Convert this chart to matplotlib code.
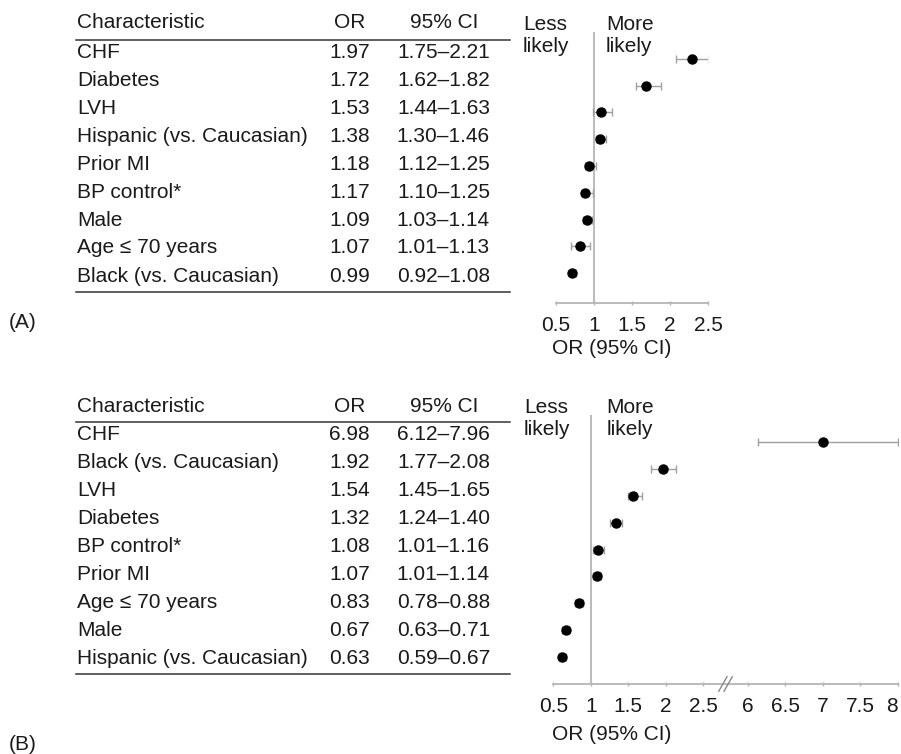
import matplotlib
matplotlib.use("Agg")
import matplotlib.pyplot as plt
import matplotlib.transforms as mtransforms
import numpy as np

plt.rcParams['font.family'] = ['Liberation Sans', 'DejaVu Sans']

# ---- data -------------------------------------------------------------
chars_a = ['CHF', 'Diabetes', 'LVH', 'Hispanic (vs. Caucasian)', 'Prior MI',
           'BP control*', 'Male', 'Age \u2264 70 years', 'Black (vs. Caucasian)']
or_a = ['1.97', '1.72', '1.53', '1.38', '1.18', '1.17', '1.09', '1.07', '0.99']
ci_a = ['1.75\u20132.21', '1.62\u20131.82', '1.44\u20131.63', '1.30\u20131.46',
        '1.12\u20131.25', '1.10\u20131.25', '1.03\u20131.14', '1.01\u20131.13',
        '0.92\u20131.08']

chars_b = ['CHF', 'Black (vs. Caucasian)', 'LVH', 'Diabetes', 'BP control*',
           'Prior MI', 'Age \u2264 70 years', 'Male', 'Hispanic (vs. Caucasian)']
or_b = ['6.98', '1.92', '1.54', '1.32', '1.08', '1.07', '0.83', '0.67', '0.63']
ci_b = ['6.12\u20137.96', '1.77\u20132.08', '1.45\u20131.65', '1.24\u20131.40',
        '1.01\u20131.16', '1.01\u20131.14', '0.78\u20130.88', '0.63\u20130.71',
        '0.59\u20130.67']

# plotted points as they appear in the forest plots
est_a = [2.29, 1.69, 1.10, 1.08, 0.93, 0.89, 0.91, 0.82, 0.72]
lo_a = [2.08, 1.55, 0.99, 1.03, 0.89, 0.85, 0.86, 0.70, 0.69]
hi_a = [2.51, 1.88, 1.24, 1.16, 1.03, 0.99, 0.97, 0.95, 0.77]

est_b = [7.01, 1.96, 1.56, 1.34, 1.09, 1.08, 0.84, 0.67, 0.62]
lo_b = [6.14, 1.80, 1.49, 1.26, 1.03, 1.03, 0.79, 0.62, 0.58]
hi_b = [8.00, 2.14, 1.68, 1.41, 1.17, 1.13, 0.90, 0.71, 0.67]

ticks_a = [0.5, 1, 1.5, 2, 2.5]
ticks_b = [0.5, 1, 1.5, 2, 2.5, 6, 6.5, 7, 7.5, 8]

# ---- layout helpers ---------------------------------------------------
W, H = 901, 754
fig = plt.figure(figsize=(W / 100, H / 100), dpi=100)
FS = 15
TXT = '#1a1a1a'
GRAY = '#b5b5b5'


def fx(px):
    return px / W


def fy(py):
    return 1 - py / H


def brk(v):
    # broken axis: 2.5 -> 6 gap
    v = np.asarray(v, dtype=float)
    return np.where(v <= 2.5, v, v - 6 + 3.09)


def table(top, row0, chars, ors, cis):
    fig.text(fx(77), fy(top), 'Characteristic', fontsize=FS, color=TXT, va='center')
    fig.text(fx(350), fy(top), 'OR', fontsize=FS, color=TXT, va='center', ha='center')
    fig.text(fx(444), fy(top), '95% CI', fontsize=FS, color=TXT, va='center', ha='center')
    fig.add_artist(plt.Line2D([fx(76), fx(510)], [fy(top + 16.5)] * 2,
                              color='#333333', lw=1.1))
    for i, (c, o, ci) in enumerate(zip(chars, ors, cis)):
        y = fy(row0 + i * 28)
        fig.text(fx(77), y, c, fontsize=FS, color=TXT, va='center')
        fig.text(fx(370), y, o, fontsize=FS, color=TXT, va='center', ha='right')
        fig.text(fx(490), y, ci, fontsize=FS, color=TXT, va='center', ha='right')
    fig.add_artist(plt.Line2D([fx(76), fx(510)], [fy(row0 + 8 * 28 + 15.5)] * 2,
                              color='#333333', lw=1.1))


def forest(left, right, top, bottom, y0, step, est, lo, hi, xlim):
    ax = fig.add_axes([fx(left), fy(bottom), (right - left) / W, (bottom - top) / H])
    n = len(est)
    y = np.arange(n)
    est = np.asarray(est)
    ax.errorbar(est, y, xerr=[est - np.asarray(lo), np.asarray(hi) - est],
                fmt='o', color='black', ms=6.5, ecolor='#a0a0a0', elinewidth=1,
                capsize=3, capthick=1, zorder=3)
    ax.axvline(1, color=GRAY, lw=1.3, zorder=1)
    ax.set_xlim(*xlim)
    ax.set_ylim((bottom - y0) / step, (top - y0) / step)
    for s in ['top', 'right', 'left']:
        ax.spines[s].set_visible(False)
    ax.spines['bottom'].set_color(GRAY)
    ax.spines['bottom'].set_linewidth(1.3)
    ax.set_yticks([])
    ax.tick_params(axis='x', direction='inout', length=3, width=1, colors=GRAY,
                   labelcolor=TXT, labelsize=FS, pad=8)
    ax.patch.set_visible(False)
    return ax


# ---- panel A ----------------------------------------------------------
table(23, 52, chars_a, or_a, ci_a)
axa = forest(555.7, 708.3, 31.7, 302.7, 58.7, 26.8, est_a, lo_a, hi_a, (0.5, 2.5))
axa.set_xticks(ticks_a)
axa.set_xticklabels(['%g' % t for t in ticks_a])
fig.text(fx(523), fy(35), 'Less\nlikely', fontsize=FS, color=TXT, va='center',
         linespacing=1.2)
fig.text(fx(606), fy(35), 'More\nlikely', fontsize=FS, color=TXT, va='center',
         linespacing=1.2)
fig.text(fx(552), fy(348), 'OR (95% CI)', fontsize=FS, color=TXT, va='center')
fig.text(fx(9), fy(322), '(A)', fontsize=FS, color=TXT, va='center')

# ---- panel B ----------------------------------------------------------
table(406, 434, chars_b, or_b, ci_b)
axb = forest(553.3, 897.7, 415, 684, 442.3, 26.8, brk(est_b), brk(lo_b), brk(hi_b),
             (0.5, float(brk(8))))
axb.set_xticks(brk(ticks_b))
axb.set_xticklabels(['%g' % t for t in ticks_b])
axb.get_xticklabels()[-1].set_horizontalalignment('right')
trans = mtransforms.blended_transform_factory(axb.transData, axb.transAxes)
xm = (2.5 + 3.09) / 2
for off in (-0.035, 0.035):
    axb.plot([xm + off - 0.055, xm + off + 0.055], [-0.027, 0.027], color='#888888',
             lw=1, transform=trans, clip_on=False, zorder=4)
fig.text(fx(524), fy(418), 'Less\nlikely', fontsize=FS, color=TXT, va='center',
         linespacing=1.2)
fig.text(fx(606.7), fy(418), 'More\nlikely', fontsize=FS, color=TXT, va='center',
         linespacing=1.2)
fig.text(fx(552), fy(735), 'OR (95% CI)', fontsize=FS, color=TXT, va='center')
fig.text(fx(9), fy(745), '(B)', fontsize=FS, color=TXT, va='center')

plt.savefig('out.png', dpi=100)
